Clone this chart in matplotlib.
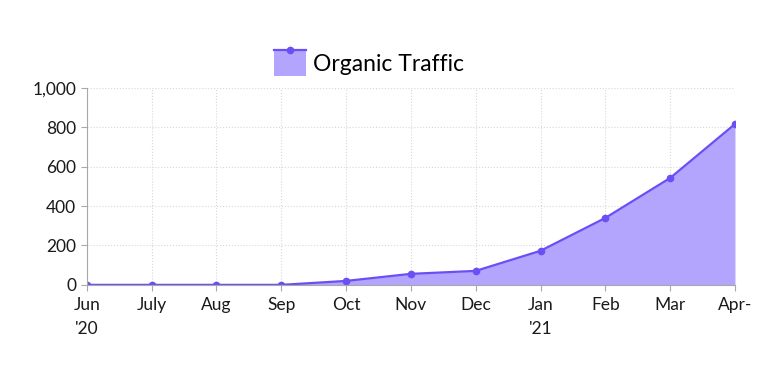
import matplotlib.pyplot as plt
from matplotlib.legend_handler import HandlerBase
from matplotlib.lines import Line2D
from matplotlib.patches import Rectangle
from matplotlib.ticker import FuncFormatter

meses = ["Jun\n'20", "July", "Aug", "Sep", "Oct", "Nov", "Dec", "Jan\n'21", "Feb", "Mar", "Apr-"]
trafico = [0, 0, 0, 0, 20, 56, 71, 173, 340, 543, 817]

color_linea = "#6a4ff5"
color_relleno = "#b3a5fd"
color_eje = "#a8a8a8"

plt.rcParams["font.family"] = ["Lato", "DejaVu Sans"]


class ManejadorArea(HandlerBase):
    # cuadro relleno con la linea y el punto sobre el borde superior
    def create_artists(self, legend, orig, xd, yd, ancho, alto, fontsize, trans):
        cuadro = Rectangle((-xd, -yd), ancho, alto, facecolor=color_relleno,
                           edgecolor="none", transform=trans)
        tope = -yd + alto
        linea = Line2D([-xd, -xd + ancho], [tope, tope], color=color_linea,
                       linewidth=1.6, transform=trans)
        punto = Line2D([-xd + ancho / 2], [tope], color=color_linea, marker="o",
                       markersize=4.5, transform=trans)
        return [cuadro, linea, punto]


fig, eje = plt.subplots(figsize=(7.68, 3.86), dpi=100)
fig.subplots_adjust(left=0.113, right=0.957, bottom=0.262, top=0.772)

x = list(range(len(meses)))
eje.fill_between(x, trafico, 0, color=color_relleno, linewidth=0)
eje.plot(x, trafico, color=color_linea, linewidth=1.6, marker="o", markersize=4.5)

eje.set_xlim(0, len(meses) - 1)
eje.set_ylim(0, 1000)
eje.set_xticks(x)
eje.set_xticklabels(meses, fontsize=12.5, color="#1a1a1a", linespacing=1.6)
eje.set_yticks([0, 200, 400, 600, 800, 1000])
eje.yaxis.set_major_formatter(FuncFormatter(lambda v, p: f"{int(v):,}"))
eje.tick_params(axis="y", labelsize=12.5, labelcolor="#1a1a1a", color=color_eje, length=4)
eje.tick_params(axis="x", color=color_eje, length=4, pad=5)

eje.grid(True, linestyle=":", color="#d8d8d8", linewidth=0.8)
eje.set_axisbelow(True)
for lado in ["top", "right"]:
    eje.spines[lado].set_visible(False)
for lado in ["left", "bottom"]:
    eje.spines[lado].set_color(color_eje)

eje.legend([object()], ["Organic Traffic"], handler_map={object: ManejadorArea()},
           loc="lower center", bbox_to_anchor=(0.436, 0.955), frameon=False,
           fontsize=16.5, handlelength=1.4, handleheight=1.4, handletextpad=0.3)

fig.savefig("out.png", dpi=100)
